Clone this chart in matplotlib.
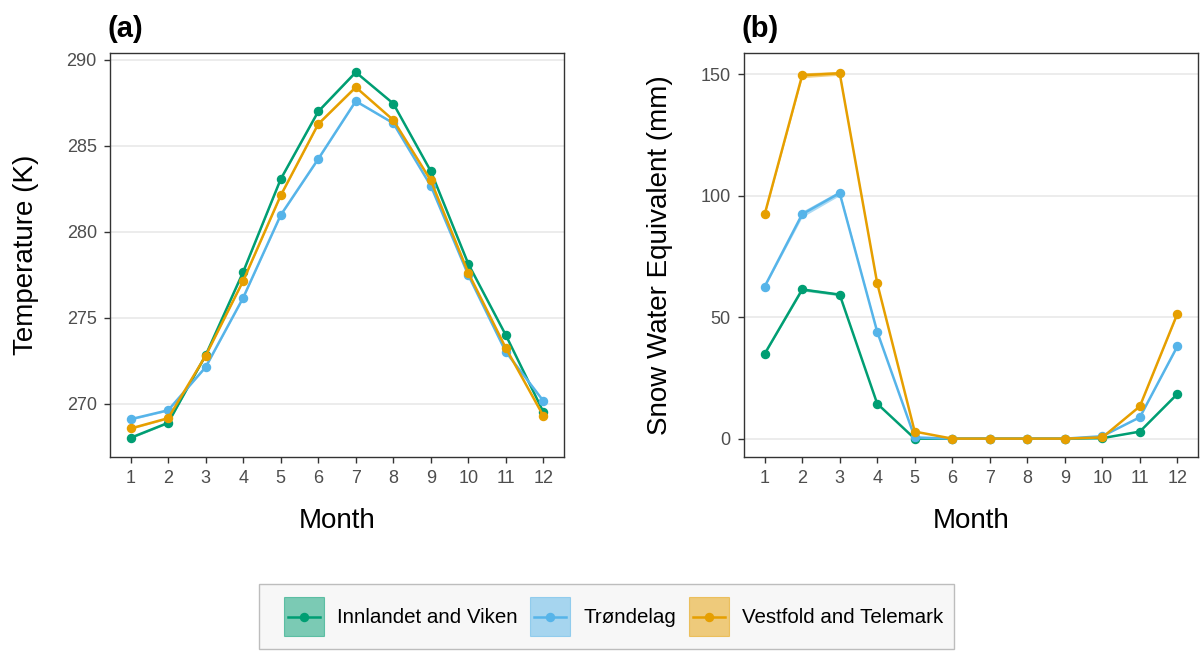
import numpy as np
import matplotlib
matplotlib.use("Agg")
import matplotlib.pyplot as plt
from matplotlib.patches import Patch, Rectangle
from matplotlib.lines import Line2D
from matplotlib.legend_handler import HandlerLine2D

plt.rcParams['font.family'] = ['Liberation Sans', 'DejaVu Sans']

months = [1, 2, 3, 4, 5, 6, 7, 8, 9, 10, 11, 12]
regions = ["Innlandet and Viken", "Trøndelag", "Vestfold and Telemark"]
colors = ["#009E73", "#56B4E9", "#E69F00"]

# monthly mean 2 m temperature (K)
temp_innlandet = [268.03, 268.90, 272.83, 277.67, 283.06, 286.99, 289.27, 287.45, 283.52, 278.13, 273.99, 269.53]
temp_trondelag = [269.11, 269.63, 272.14, 276.17, 280.97, 284.23, 287.59, 286.31, 282.67, 277.48, 273.02, 270.17]
temp_vestfold = [268.57, 269.17, 272.80, 277.15, 282.11, 286.26, 288.40, 286.49, 282.98, 277.61, 273.24, 269.30]
temp_se_innlandet = [0.05, 0.05, 0.05, 0.05, 0.05, 0.05, 0.05, 0.05, 0.05, 0.05, 0.05, 0.05]
temp_se_trondelag = [0.05, 0.05, 0.05, 0.05, 0.05, 0.05, 0.05, 0.05, 0.05, 0.05, 0.05, 0.05]
temp_se_vestfold = [0.05, 0.05, 0.05, 0.05, 0.05, 0.05, 0.05, 0.05, 0.05, 0.05, 0.05, 0.05]

# monthly mean snow water equivalent (mm)
swe_innlandet = [34.9, 61.4, 59.3, 14.4, 0.0, 0.0, 0.0, 0.0, 0.0, 0.2, 2.9, 18.4]
swe_trondelag = [62.6, 92.4, 101.1, 44.0, 0.5, 0.0, 0.0, 0.0, 0.0, 1.0, 8.8, 38.0]
swe_vestfold = [92.3, 149.6, 150.4, 64.0, 2.9, 0.0, 0.0, 0.0, 0.0, 0.5, 13.3, 51.4]
swe_se_innlandet = [0.3, 0.6, 0.5, 0.2, 0.0, 0.0, 0.0, 0.0, 0.0, 0.0, 0.1, 0.2]
swe_se_trondelag = [0.4, 1.2, 1.0, 0.4, 0.0, 0.0, 0.0, 0.0, 0.0, 0.0, 0.1, 0.3]
swe_se_vestfold = [0.5, 1.0, 0.8, 0.4, 0.0, 0.0, 0.0, 0.0, 0.0, 0.0, 0.1, 0.3]

temp = [temp_innlandet, temp_trondelag, temp_vestfold]
temp_se = [temp_se_innlandet, temp_se_trondelag, temp_se_vestfold]
swe = [swe_innlandet, swe_trondelag, swe_vestfold]
swe_se = [swe_se_innlandet, swe_se_trondelag, swe_se_vestfold]

W, H = 1203, 653
fig = plt.figure(figsize=(W / 100, H / 100), dpi=100)
ax_a = fig.add_axes([110 / W, 1 - 457 / H, 454 / W, 404 / H])
ax_b = fig.add_axes([744 / W, 1 - 457 / H, 454 / W, 404 / H])


def draw_panel(ax, series, errs, yticks, ylabel, tag):
    lo_all, hi_all = [], []
    for vals, se, c in zip(series, errs, colors):
        v = np.array(vals)
        e = np.array(se)
        ax.fill_between(months, v - e, v + e, color=c, alpha=0.5, lw=0, zorder=2)
        ax.plot(months, v, color=c, lw=1.8, marker='o', ms=5.8, zorder=3)
        lo_all.append((v - e).min())
        hi_all.append((v + e).max())
    lo, hi = min(lo_all), max(hi_all)
    pad = (hi - lo) * 0.05
    ax.set_ylim(lo - pad, hi + pad)
    ax.set_xlim(0.45, 12.55)
    ax.set_xticks(months)
    ax.set_yticks(yticks)
    ax.grid(axis='y', color='#EBEBEB', lw=1.3, zorder=0)
    ax.set_axisbelow(True)
    for s in ax.spines.values():
        s.set_color('#333333')
        s.set_linewidth(1.0)
    ax.tick_params(length=4.5, width=1.0, color='#333333', labelcolor='#4D4D4D',
                   labelsize=13, pad=5)
    ax.set_xlabel("Month", fontsize=20, color='black')
    ax.xaxis.label.set_va('center')
    ax.xaxis.set_label_coords(0.5, -0.158)
    ax.set_ylabel(ylabel, fontsize=20, color='black')
    ax.yaxis.label.set_va('center')
    ax.yaxis.set_label_coords(-0.185, 0.5)
    ax.text(-0.005, 1.06, tag, transform=ax.transAxes, fontsize=21,
            fontweight='bold', ha='left', va='center')


draw_panel(ax_a, temp, temp_se, [270, 275, 280, 285, 290], "Temperature (K)", "(a)")
draw_panel(ax_b, swe, swe_se, [0, 50, 100, 150], "Snow Water Equivalent (mm)", "(b)")


class KeyLine(HandlerLine2D):
    # line through the middle of the key box, slightly inset, point in the centre
    def create_artists(self, legend, orig_handle, xdescent, ydescent,
                       width, height, fontsize, trans):
        arts = super().create_artists(legend, orig_handle, xdescent, ydescent,
                                      width, height, fontsize, trans)
        yc = height / 2 - ydescent
        x0 = -xdescent + 0.1 * width
        x1 = -xdescent + 0.9 * width
        for a in arts:
            n = len(a.get_xdata())
            xs = np.linspace(x0, x1, n) if n > 1 else [(x0 + x1) / 2]
            a.set_data(xs, np.full(n, yc))
        return arts


# legend background box
fig.patches.append(Rectangle((259 / W, 1 - 649 / H), 695 / W, 65 / H,
                             transform=fig.transFigure, facecolor='#F7F7F7',
                             edgecolor='#BDBDBD', lw=1.0, zorder=0))

handles = []
for c in colors:
    box = Patch(facecolor=c, alpha=0.5, edgecolor=c, lw=0.8)
    ln = Line2D([], [], color=c, lw=1.8, marker='o', ms=5.8)
    handles.append((box, ln))
leg = fig.legend(handles, regions, loc='center left',
                 bbox_to_anchor=(284 / W, 1 - 616.5 / H),
                 ncol=3, fontsize=14.8, frameon=False,
                 handlelength=1.95, handleheight=2.6, handletextpad=0.65,
                 columnspacing=0.6, borderpad=0, borderaxespad=0,
                 handler_map={Line2D: KeyLine()})

fig.savefig("out.png", dpi=100)
